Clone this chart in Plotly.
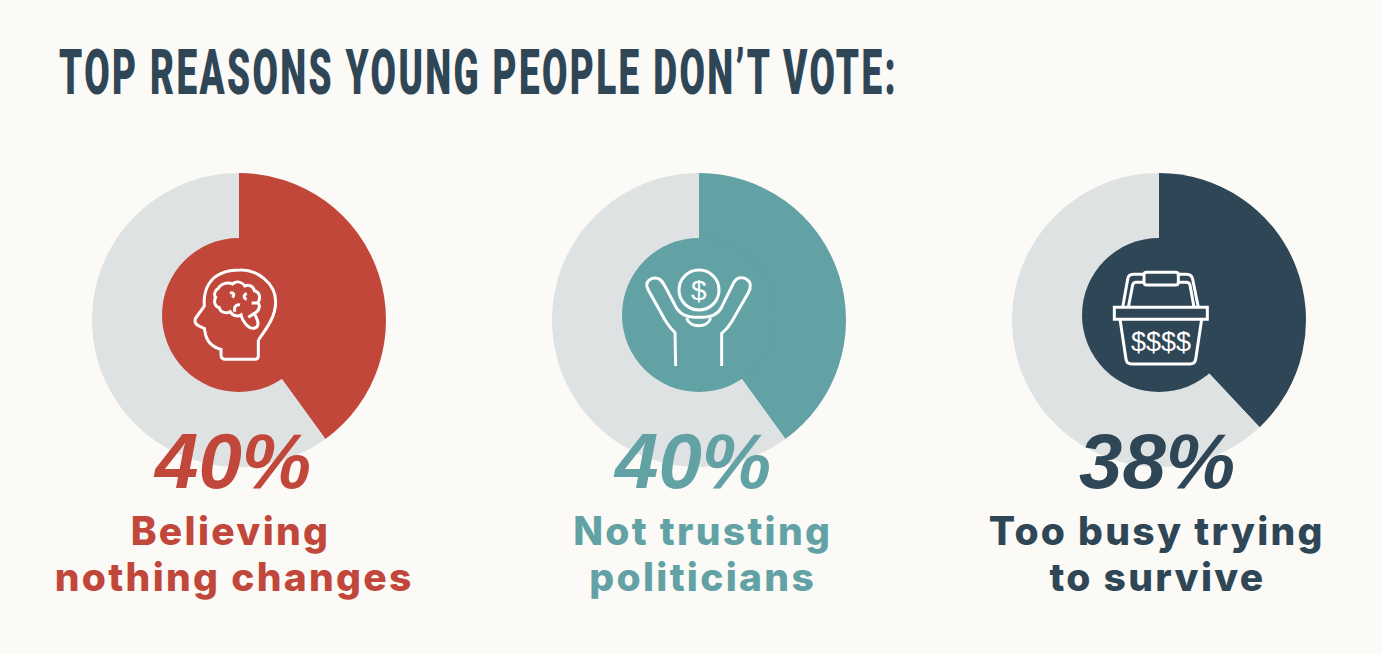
import re
import plotly.graph_objects as go

W = 1382
H = 654

title = "TOP REASONS YOUNG PEOPLE DON’T VOTE:"
percents = [40, 40, 38]
shown = ["40%", "40%", "38%"]
line1 = ["Believing", "Not trusting", "Too busy trying"]
line2 = ["nothing changes", "politicians", "to survive"]
colors = ["#c1473a", "#62a2a5", "#2f4656"]

GREY = "#dfe2e3"
BG = "#fbfaf7"
centers = [239, 699, 1159]
pct_x = [232, 692, 1157]
line1_x = [230, 702, 1157]
line2_x = [234, 702, 1157]
CY = 320
R = 147
INNER_R = 77
INNER_CY = 315

# no condensed or tracked fonts on the box, so squeeze the title and open up the labels after drawing
POST = """
document.body.style.margin = '0';
document.body.style.background = '%s';
document.querySelectorAll('.annotation-text').forEach(function (t) {
    var s = t.textContent;
    if (s.indexOf('TOP') === 0) {
        var b0 = t.getBBox();
        t.style.letterSpacing = '4px';
        var b = t.getBBox();
        var k = 839 / b.width;
        t.setAttribute('transform', 'translate(' + b0.x + ',0) scale(' + k + ',1) translate(' + (-b.x) + ',0)');
    } else if (/[a-z]/.test(s)) {
        t.style.letterSpacing = '2.3px';
    }
});
""" % BG


def domain(cx, cy, r):
    return dict(x=[(cx - r) / W, (cx + r) / W], y=[1 - (cy + r) / H, 1 - (cy - r) / H])


def icon(path, ox, oy):
    nums = iter(range(100000))

    def conv(m):
        v = float(m.group(0)) / 3
        return "%.2f" % (v + (ox if next(nums) % 2 == 0 else oy))
    return re.sub(r"\d+(\.\d+)?", conv, path)


def circle(cx, cy, r):
    k = r * 0.5523
    return (f"M {cx-r},{cy} C {cx-r},{cy-k} {cx-k},{cy-r} {cx},{cy-r} "
            f"C {cx+k},{cy-r} {cx+r},{cy-k} {cx+r},{cy} "
            f"C {cx+r},{cy+k} {cx+k},{cy+r} {cx},{cy+r} "
            f"C {cx-k},{cy+r} {cx-r},{cy+k} {cx-r},{cy} Z")


head = ("M 220,240 L 220,288 Q 220,298 210,298 L 122,298 Q 108,298 108,285 L 108,268 "
        "C 85,262 65,250 60,215 L 58,205 C 45,200 30,195 30,183 Q 30,175 35,170 L 58,138 "
        "C 55,100 65,30 165,30 C 215,28 272,70 272,125 C 272,170 245,205 220,240")
brain = ("M 100,85 C 90,90 85,105 92,112 C 85,125 90,140 103,143 C 105,158 125,162 135,155 "
         "C 145,170 160,170 168,165 C 172,185 190,205 205,205 C 220,205 222,190 215,175 L 208,160 "
         "C 222,155 228,135 218,128 C 228,115 225,95 208,92 C 205,78 190,72 180,78 "
         "C 170,65 155,62 142,72 C 130,65 108,70 100,85 Z "
         "M 135,100 C 145,95 150,105 142,112 M 150,155 C 145,140 155,132 165,135 "
         "M 185,100 C 175,105 175,115 185,118 M 190,172 C 198,165 205,163 208,160 "
         "M 200,130 L 218,128")
person = ("M 167,378 L 165,278 C 150,265 145,255 135,240 L 85,150 C 70,125 95,110 112,115 "
          "C 125,118 130,130 140,148 L 170,205 C 185,225 200,232 236,232 C 275,232 290,225 303,205 "
          "L 340,130 C 350,110 370,110 380,118 C 395,128 392,145 385,158 L 335,245 "
          "C 325,262 318,270 305,280 L 305,378 "
          "M 200,235 C 210,265 262,265 272,235 ") + circle(237, 150, 60)
basket = ("M 103,202 L 382,202 L 382,238 L 103,238 Z "
          "M 120,238 L 138,358 Q 140,372 155,372 L 330,372 Q 345,372 347,358 L 365,238 "
          "M 200,97 L 287,97 Q 295,97 295,105 L 295,127 Q 295,135 287,135 L 200,135 "
          "Q 192,135 192,127 L 192,105 Q 192,97 200,97 Z "
          "M 192,103 L 160,103 Q 145,103 143,118 L 128,202 "
          "M 192,127 L 168,127 Q 160,127 158,135 L 145,202 "
          "M 295,103 L 320,103 Q 335,103 338,118 L 355,202 "
          "M 295,127 L 320,127 Q 327,127 330,135 L 342,202")

fig = go.Figure()
# needed so the x/y axes exist for the icon shapes
fig.add_trace(go.Scatter(x=[None], y=[None], showlegend=False, hoverinfo="skip"))

for i in range(3):
    fig.add_trace(go.Pie(values=[percents[i], 100 - percents[i]], marker=dict(colors=[colors[i], GREY]),
                         sort=False, direction="clockwise", rotation=0, textinfo="none", hoverinfo="skip",
                         showlegend=False, domain=domain(centers[i], CY, R)))
    fig.add_trace(go.Pie(values=[100], marker=dict(colors=[colors[i]]), textinfo="none", hoverinfo="skip",
                         showlegend=False, domain=domain(centers[i], INNER_CY, INNER_R)))

shapes = []
for p, ox, oy in [(head, 185, 260), (brain, 185, 260), (person, 620, 240), (basket, 1080, 240)]:
    shapes.append(dict(type="path", path=icon(p, ox, oy), xref="x", yref="y", layer="above",
                       line=dict(color="white", width=3)))

notes = [dict(text=title, x=57, y=72, xanchor="left", yanchor="middle", showarrow=False,
              font=dict(family="Roboto", size=62, color=colors[2], weight=900))]
for i in range(3):
    notes.append(dict(text=shown[i], x=pct_x[i], y=461, xanchor="center", yanchor="middle", showarrow=False,
                      font=dict(family="Liberation Sans", size=78, color=colors[i], weight="bold", style="italic")))
    notes.append(dict(text=line1[i], x=line1_x[i], y=530, xanchor="center", yanchor="middle", showarrow=False,
                      font=dict(family="Inter", size=39, color=colors[i], weight=800)))
    notes.append(dict(text=line2[i], x=line2_x[i], y=576, xanchor="center", yanchor="middle", showarrow=False,
                      font=dict(family="Inter", size=39, color=colors[i], weight=800)))
# small glyphs inside the icons
notes.append(dict(text="$", x=699, y=290, showarrow=False,
                  font=dict(family="Liberation Sans", size=28, color="white")))
notes.append(dict(text="$$$$", x=1161, y=342, showarrow=False,
                  font=dict(family="Liberation Sans", size=27, color="white")))

fig.update_layout(width=W, height=H, margin=dict(l=0, r=0, t=0, b=0), paper_bgcolor=BG, plot_bgcolor=BG,
                  xaxis=dict(range=[0, W], visible=False, fixedrange=True),
                  yaxis=dict(range=[H, 0], visible=False, fixedrange=True),
                  shapes=shapes, annotations=notes)

fig.write_html("out.html", post_script=POST, config=dict(displayModeBar=False))
